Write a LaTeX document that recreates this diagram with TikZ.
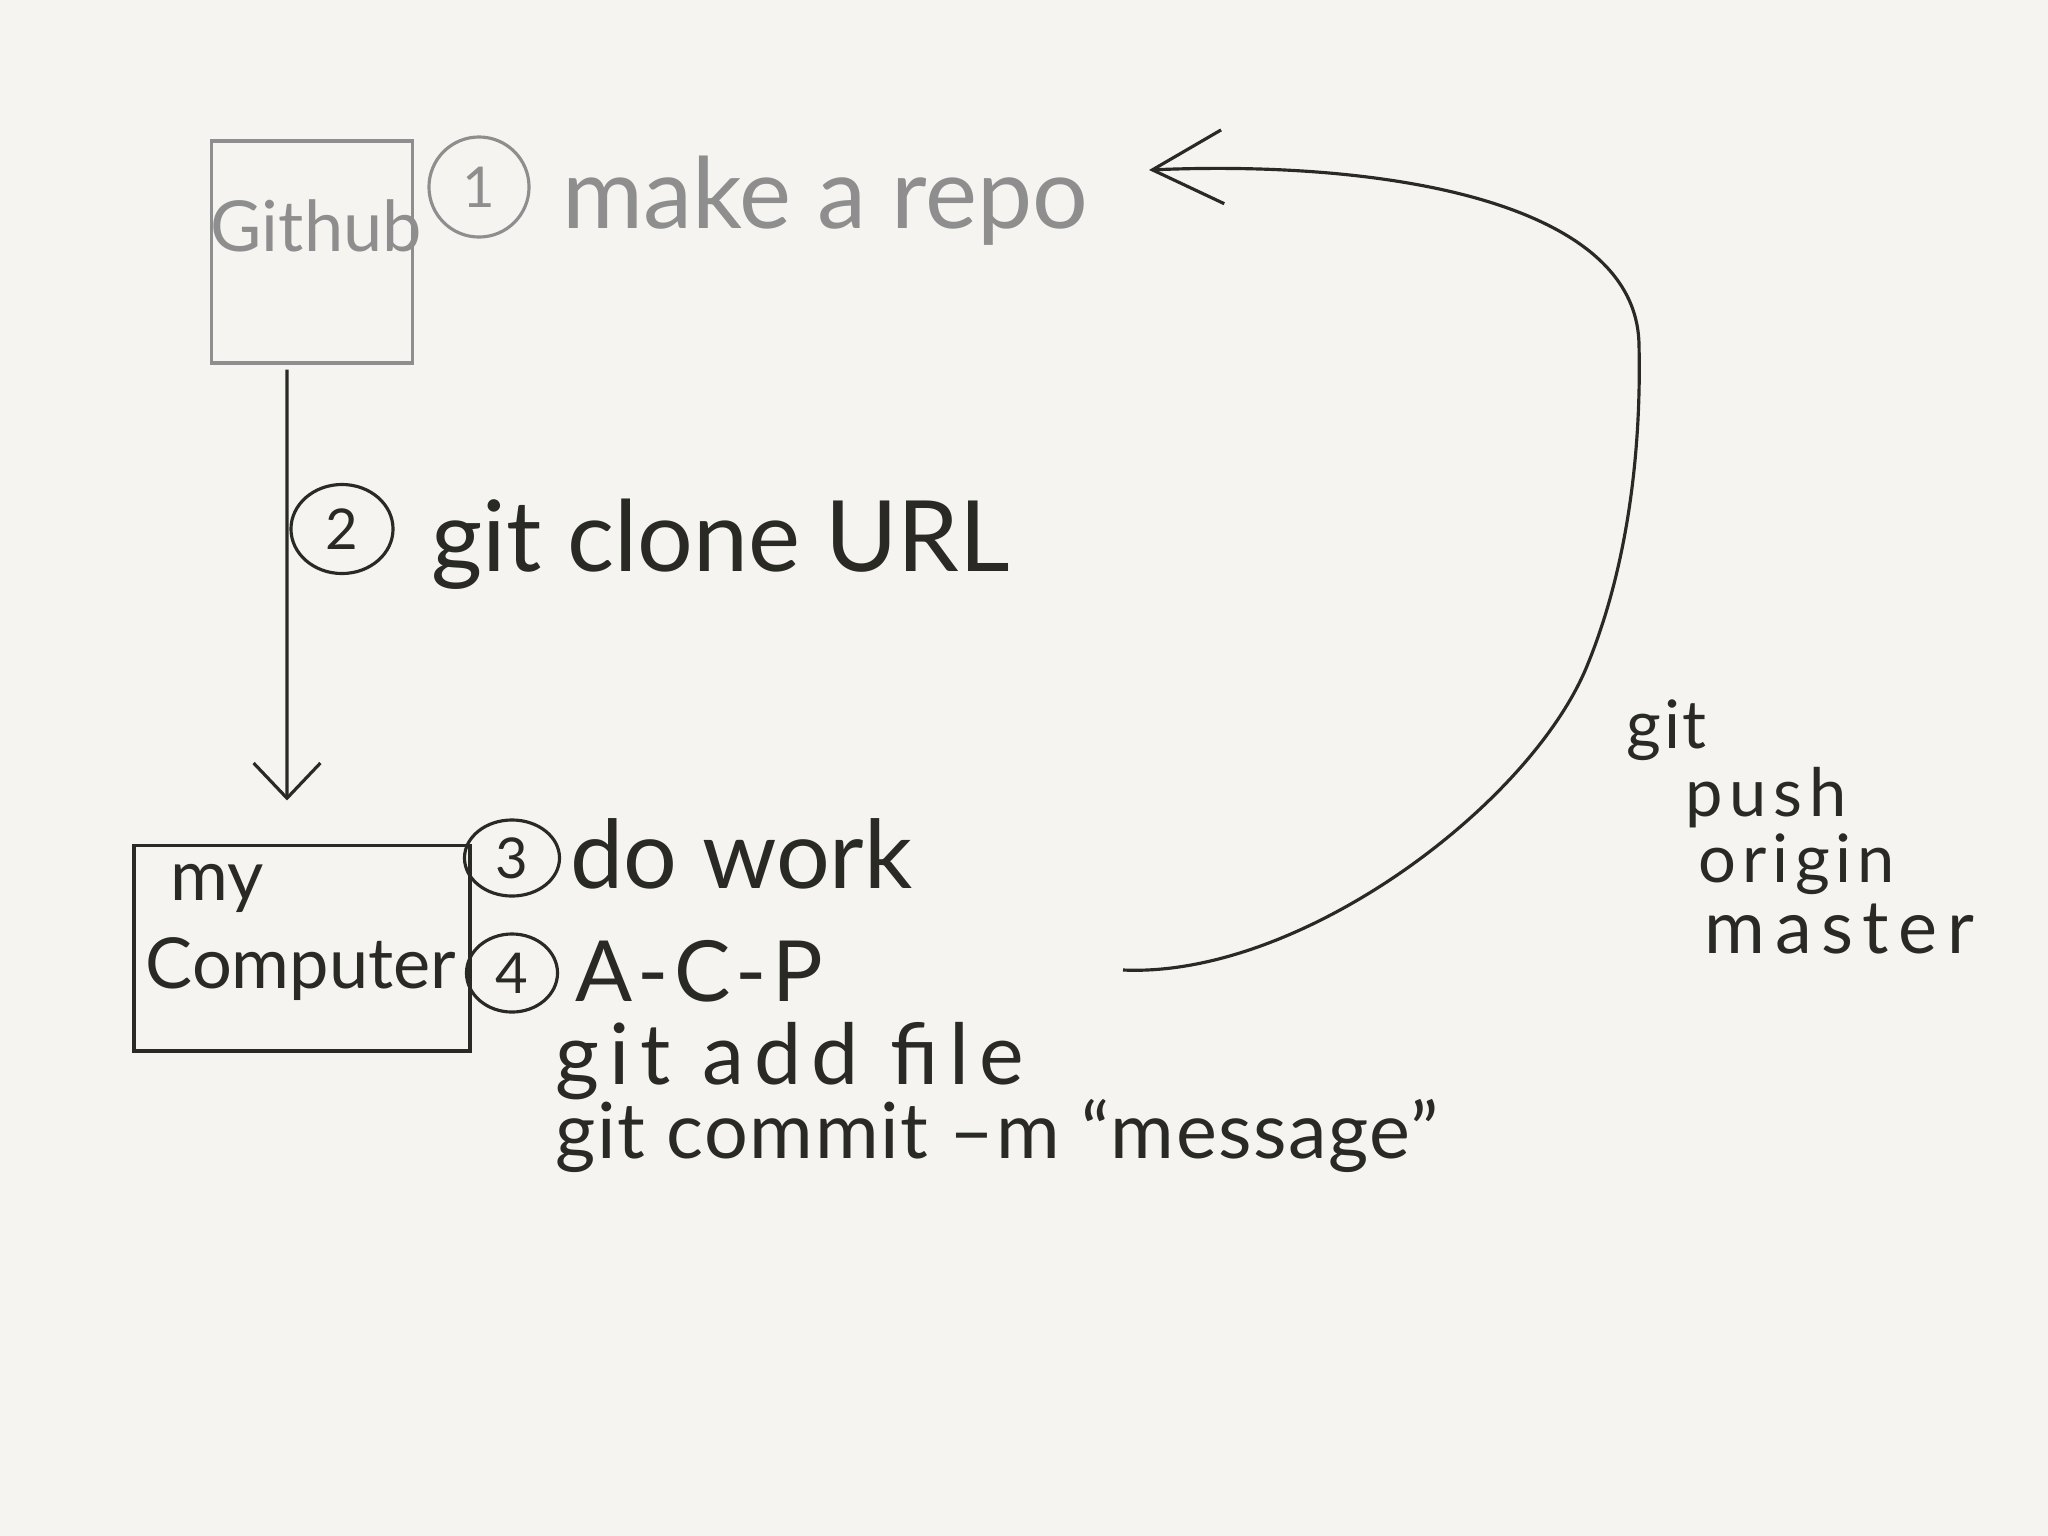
\documentclass[tikz,border=0pt]{standalone}
\usepackage{fontspec}
\setmainfont{Lato}
\usetikzlibrary{arrows.meta,shapes.geometric}
\definecolor{paper}{HTML}{F5F4F0}
\definecolor{ink}{HTML}{2A2A24}
\definecolor{pencil}{HTML}{8E8E8E}
\newcommand{\fs}[2]{\fontsize{#1}{#1}\selectfont\addfontfeature{LetterSpace=#2}}
\begin{document}
\begin{tikzpicture}[x=0.01cm,y=-0.01cm,
  inkbox/.style={draw=ink, line width=1.1pt, rectangle, inner sep=0pt},
  pencilbox/.style={draw=pencil, line width=0.9pt, rectangle, inner sep=0pt},
  num/.style={ellipse, draw=ink, text=ink, line width=0.9pt, inner sep=0pt, font=\fs{16}{0}},
  pnum/.style={num, draw=pencil, text=pencil},
  hand/.style={text=ink, inner sep=0pt, anchor=base west},
  phand/.style={hand, text=pencil},
  link/.style={draw=ink, line width=0.9pt}
]
\fill[paper] (0,0) rectangle (2048,1536);
\useasboundingbox (0,0) rectangle (2048,1536);

% GitHub (pencil, gray)
\node[pencilbox, minimum width=2.01cm, minimum height=2.22cm] (github) at (312,252) {};
\node[phand, font=\fs{20}{0}] (githublabel) at (210,251) {Github};
\node[pnum, minimum width=1.0cm, minimum height=1.0cm] (n1) at (479,187) {1};
\node[phand, font=\fs{28}{0}] (make) at (562,228) {make a repo};

% my Computer
\node[inkbox, minimum width=3.35cm, minimum height=2.05cm] (computer) at (302,948) {};
\node[hand, font=\fs{20}{0}] (mylabel) at (170,900) {my};
\node[hand, font=\fs{20}{0}] (complabel) at (145,988) {Computer};

% clone arrow
\draw[link, -{Straight Barb[length=10pt,width=19pt]}, shorten <=0.05cm, shorten >=0.43cm]
  ([xshift=-0.25cm]github.south) -- ([xshift=-0.15cm]computer.north);
\node[num, minimum width=1.02cm, minimum height=0.89cm] (n2) at (342,529) {2};
\node[hand, font=\fs{28}{0}] (clone) at (431,571) {git clone URL};

% steps 3 and 4
\node[num, minimum width=0.95cm, minimum height=0.76cm] (n3) at (512,858) {3};
\node[hand, font=\fs{27}{0}] (work) at (570,888) {do work};
\node[num, minimum width=0.91cm, minimum height=0.78cm] (n4) at (512,973) {4};
\node[hand, font=\fs{24}{6}] (acp) at (575,1001) {A-C-P};
\node[hand, font=\fs{24}{12}] (add) at (555,1084) {git add file};
\node[hand, font=\fs{22}{2}] (commit) at (555,1158) {git commit –m “message”};

% push curve
\coordinate (pushstart) at (1123,970);
\coordinate (pushend) at (1149,170);
\draw[link, -{Straight Barb[length=20pt,width=21pt]}]
  (pushstart) .. controls (1300,978) and (1530,805) .. (1587,666)
  .. controls (1633,554) and (1641,430) .. (1639,345)
  .. controls (1637,200) and (1380,160) .. (pushend);

\node[hand, font=\fs{19}{4}] (pgit) at (1626,748) {git};
\node[hand, font=\fs{19}{10}] (push) at (1685,816) {push};
\node[hand, font=\fs{19}{9}] (origin) at (1698,882) {origin};
\node[hand, font=\fs{21}{13}] (master) at (1704,953) {master};
\end{tikzpicture}
\end{document}
